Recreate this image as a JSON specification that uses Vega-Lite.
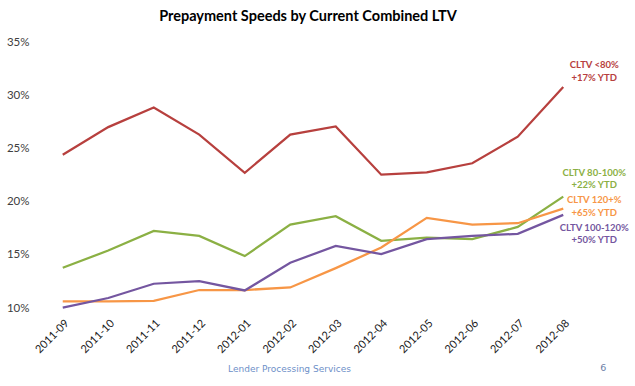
{
  "$schema": "https://vega.github.io/schema/vega-lite/v6.json",
  "autosize": {"type": "none"},
  "width": 546,
  "height": 266,
  "padding": {"left": 40, "top": 42, "right": 49, "bottom": 78},
  "background": "white",
  "config": {"view": {"stroke": null}, "font": "Lato"},
  "title": {"text": "Prepayment Speeds by Current Combined LTV", "fontSize": 14.5, "font": "Lato", "fontWeight": "bold", "color": "#000000", "anchor": "middle", "offset": 12, "dx": -5},
  "datasets": {
    "series": [
      {"month": "2011-09", "series": "CLTV <80%", "value": 24.4},
      {"month": "2011-10", "series": "CLTV <80%", "value": 27.0},
      {"month": "2011-11", "series": "CLTV <80%", "value": 28.85},
      {"month": "2011-12", "series": "CLTV <80%", "value": 26.3},
      {"month": "2012-01", "series": "CLTV <80%", "value": 22.7},
      {"month": "2012-02", "series": "CLTV <80%", "value": 26.3},
      {"month": "2012-03", "series": "CLTV <80%", "value": 27.07},
      {"month": "2012-04", "series": "CLTV <80%", "value": 22.53},
      {"month": "2012-05", "series": "CLTV <80%", "value": 22.75},
      {"month": "2012-06", "series": "CLTV <80%", "value": 23.6},
      {"month": "2012-07", "series": "CLTV <80%", "value": 26.1},
      {"month": "2012-08", "series": "CLTV <80%", "value": 30.78},
      {"month": "2011-09", "series": "CLTV 80-100%", "value": 13.78},
      {"month": "2011-10", "series": "CLTV 80-100%", "value": 15.4},
      {"month": "2011-11", "series": "CLTV 80-100%", "value": 17.25},
      {"month": "2011-12", "series": "CLTV 80-100%", "value": 16.78},
      {"month": "2012-01", "series": "CLTV 80-100%", "value": 14.88},
      {"month": "2012-02", "series": "CLTV 80-100%", "value": 17.84},
      {"month": "2012-03", "series": "CLTV 80-100%", "value": 18.63},
      {"month": "2012-04", "series": "CLTV 80-100%", "value": 16.31},
      {"month": "2012-05", "series": "CLTV 80-100%", "value": 16.62},
      {"month": "2012-06", "series": "CLTV 80-100%", "value": 16.47},
      {"month": "2012-07", "series": "CLTV 80-100%", "value": 17.62},
      {"month": "2012-08", "series": "CLTV 80-100%", "value": 20.47},
      {"month": "2011-09", "series": "CLTV 120+%", "value": 10.62},
      {"month": "2011-10", "series": "CLTV 120+%", "value": 10.62},
      {"month": "2011-11", "series": "CLTV 120+%", "value": 10.68},
      {"month": "2011-12", "series": "CLTV 120+%", "value": 11.69},
      {"month": "2012-01", "series": "CLTV 120+%", "value": 11.69},
      {"month": "2012-02", "series": "CLTV 120+%", "value": 11.93},
      {"month": "2012-03", "series": "CLTV 120+%", "value": 13.75},
      {"month": "2012-04", "series": "CLTV 120+%", "value": 15.68},
      {"month": "2012-05", "series": "CLTV 120+%", "value": 18.47},
      {"month": "2012-06", "series": "CLTV 120+%", "value": 17.84},
      {"month": "2012-07", "series": "CLTV 120+%", "value": 17.97},
      {"month": "2012-08", "series": "CLTV 120+%", "value": 19.34},
      {"month": "2011-09", "series": "CLTV 100-120%", "value": 10.03},
      {"month": "2011-10", "series": "CLTV 100-120%", "value": 10.94},
      {"month": "2011-11", "series": "CLTV 100-120%", "value": 12.28},
      {"month": "2011-12", "series": "CLTV 100-120%", "value": 12.53},
      {"month": "2012-01", "series": "CLTV 100-120%", "value": 11.65},
      {"month": "2012-02", "series": "CLTV 100-120%", "value": 14.25},
      {"month": "2012-03", "series": "CLTV 100-120%", "value": 15.84},
      {"month": "2012-04", "series": "CLTV 100-120%", "value": 15.06},
      {"month": "2012-05", "series": "CLTV 100-120%", "value": 16.47},
      {"month": "2012-06", "series": "CLTV 100-120%", "value": 16.78},
      {"month": "2012-07", "series": "CLTV 100-120%", "value": 16.97},
      {"month": "2012-08", "series": "CLTV 100-120%", "value": 18.75}
    ],
    "labels": [
      {"month": "2012-08", "series": "CLTV <80%", "value": 32.82, "text": "CLTV <80%"},
      {"month": "2012-08", "series": "CLTV <80%", "value": 31.66, "text": "+17% YTD"},
      {"month": "2012-08", "series": "CLTV 80-100%", "value": 22.66, "text": "CLTV 80-100%"},
      {"month": "2012-08", "series": "CLTV 80-100%", "value": 21.56, "text": "+22% YTD"},
      {"month": "2012-08", "series": "CLTV 120+%", "value": 20.16, "text": "CLTV 120+%"},
      {"month": "2012-08", "series": "CLTV 120+%", "value": 18.96, "text": "+65% YTD"},
      {"month": "2012-08", "series": "CLTV 100-120%", "value": 17.56, "text": "CLTV 100-120%"},
      {"month": "2012-08", "series": "CLTV 100-120%", "value": 16.4, "text": "+50% YTD"}
    ],
    "page": [
      {"month": "2012-08", "value": 4.4, "text": "6"}
    ]
  },
  "encoding": {
    "x": {
      "field": "month", "type": "ordinal",
      "scale": {"type": "point", "padding": 0.5},
      "axis": {
        "title": "Lender Processing Services",
        "titleFont": "DejaVu Sans", "titleFontSize": 9, "titleFontWeight": "normal", "titleColor": "#6d8fc8",
        "titleX": 249, "titleY": 60, "titleBaseline": "middle",
        "labelAngle": -45, "labelFontSize": 11, "labelColor": "#1a1a1a", "labelPadding": 9,
        "domain": false, "ticks": false, "grid": false
      }
    },
    "y": {
      "field": "value", "type": "quantitative",
      "scale": {"domain": [10, 35], "nice": false, "zero": false},
      "axis": {
        "title": null, "values": [10, 15, 20, 25, 30, 35],
        "labelExpr": "datum.value + '%'",
        "labelFontSize": 11.5, "labelColor": "#404040", "labelPadding": 11,
        "domain": false, "ticks": false, "grid": false
      }
    },
    "color": {
      "field": "series", "type": "nominal", "legend": null,
      "scale": {
        "domain": ["CLTV <80%", "CLTV 80-100%", "CLTV 120+%", "CLTV 100-120%"],
        "range": ["#b7403e", "#8bb044", "#f79646", "#7456a0"]
      }
    }
  },
  "layer": [
    {
      "data": {"name": "series"},
      "mark": {"type": "line", "strokeWidth": 2.25}
    },
    {
      "data": {"name": "labels"},
      "mark": {"type": "text", "dx": 31, "fontWeight": "bold", "fontSize": 9.5, "align": "center", "baseline": "middle"},
      "encoding": {"text": {"field": "text"}}
    },
    {
      "data": {"name": "page"},
      "mark": {"type": "text", "dx": 40, "fontSize": 9.5, "font": "DejaVu Sans", "color": "#6d7fa8", "align": "center", "baseline": "middle"},
      "encoding": {"text": {"field": "text"}, "color": {"value": "#6d7fa8"}}
    }
  ]
}
